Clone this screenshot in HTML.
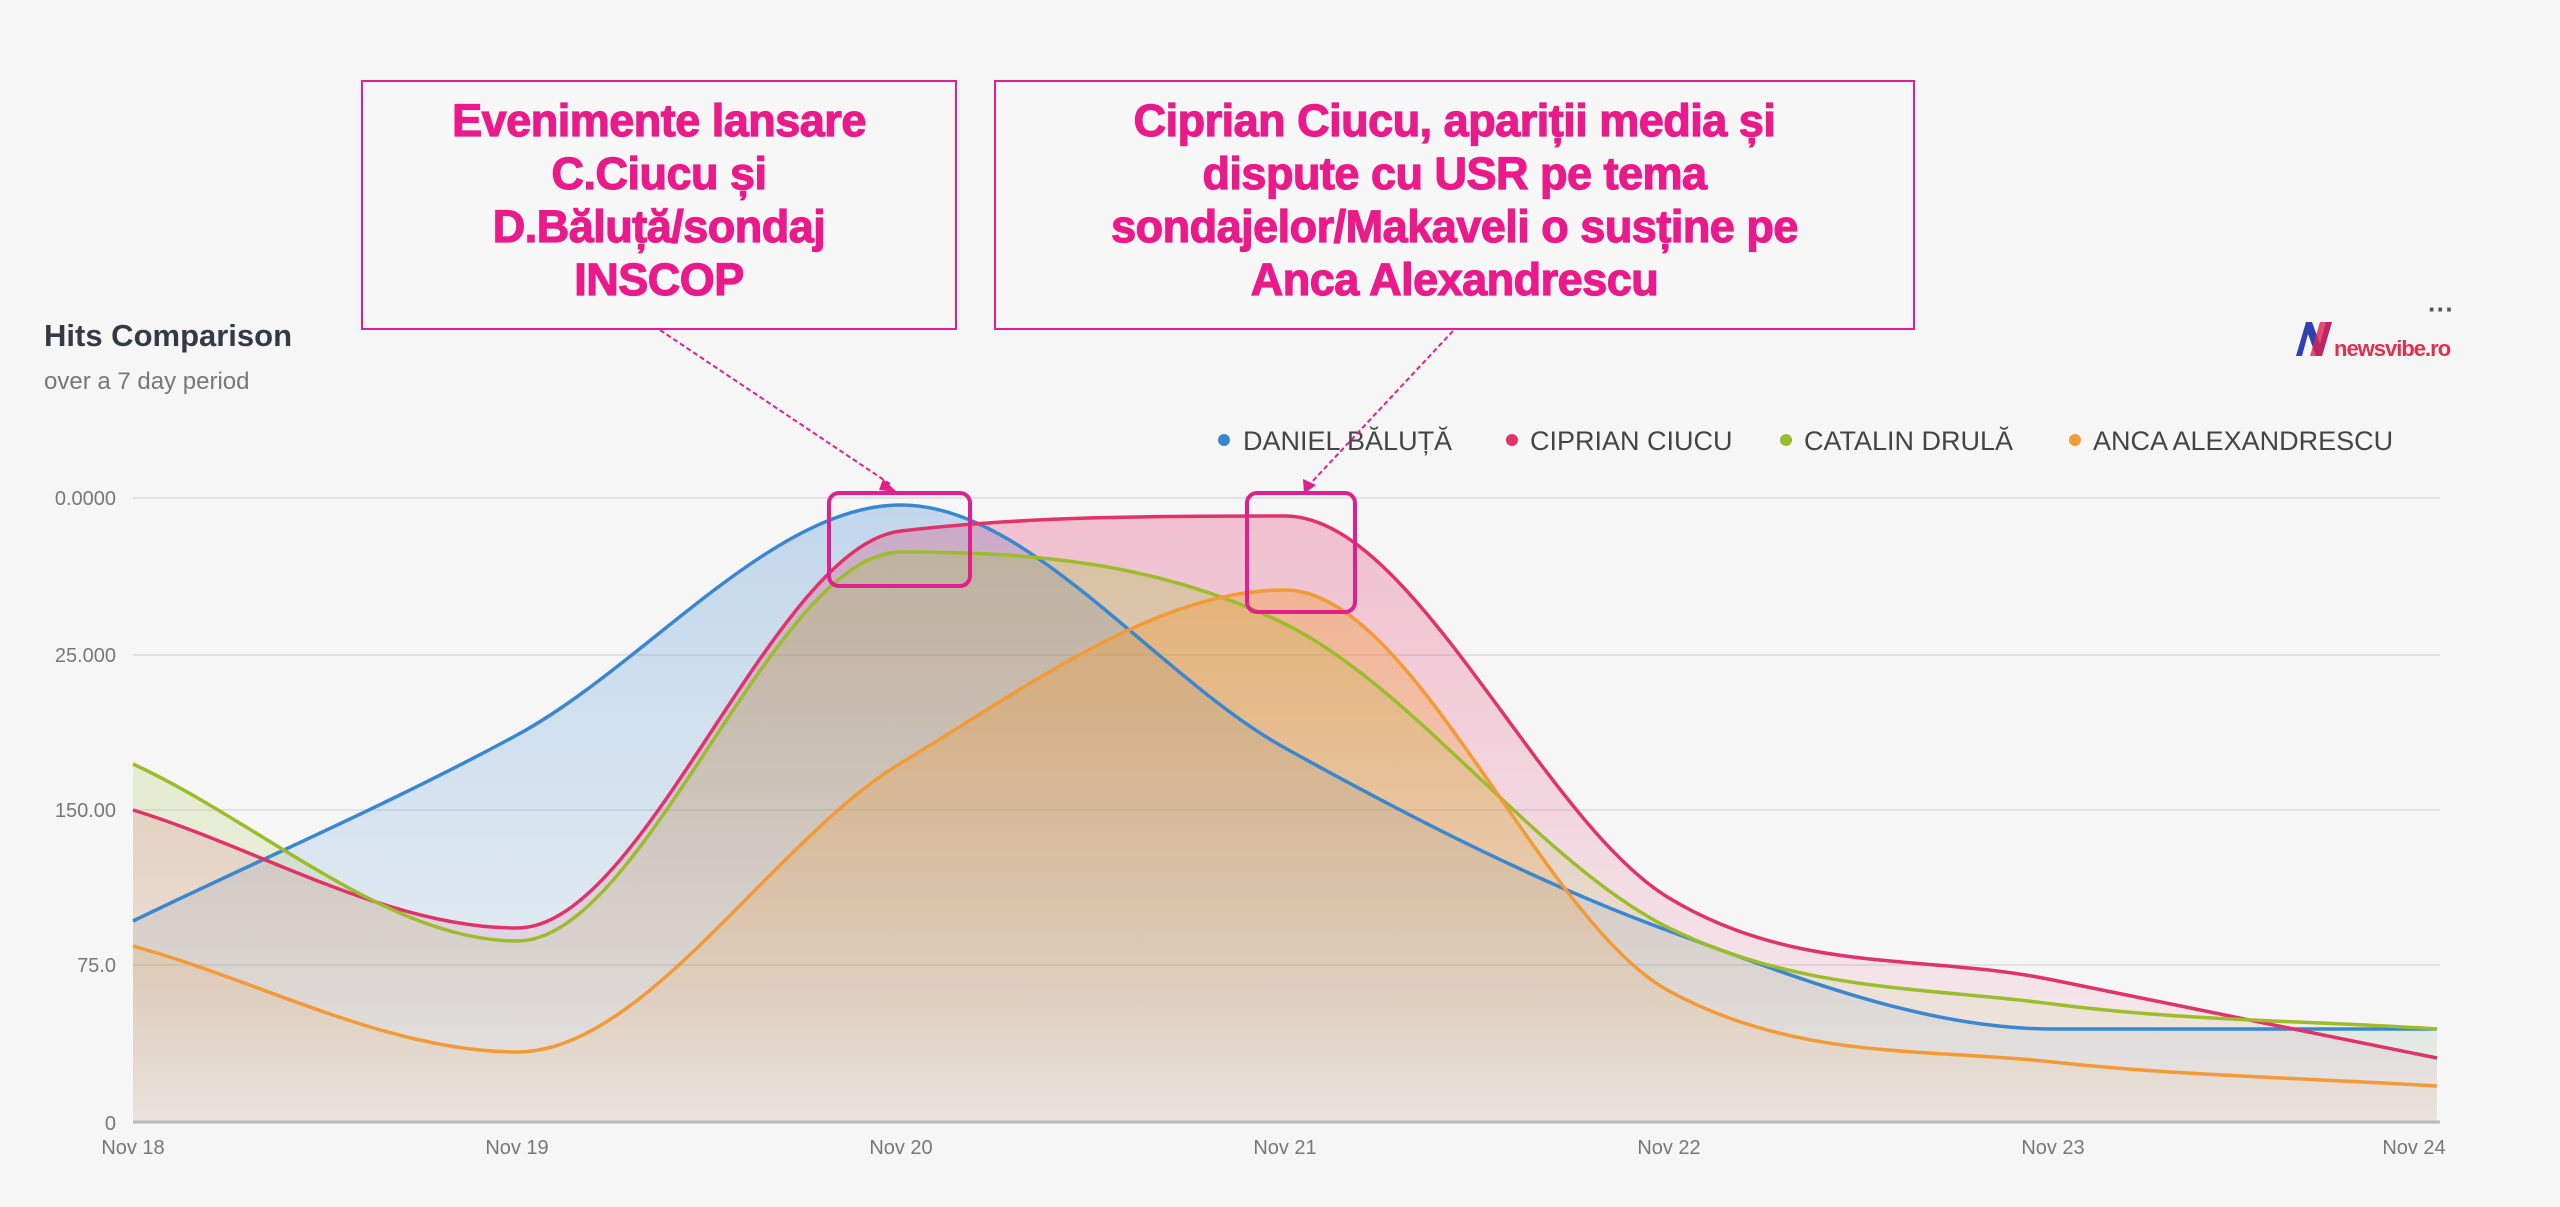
<!DOCTYPE html>
<html><head><meta charset="utf-8"><style>
html,body{margin:0;padding:0;background:#f6f6f6;}
body{width:2560px;height:1207px;overflow:hidden;position:relative;font-family:"Liberation Sans",sans-serif;}
.box{position:absolute;border:2px solid #e0208c;background:#f7f7f7;box-sizing:border-box;color:#ea1a8a;font-weight:bold;text-align:center;font-size:45px;line-height:53px;letter-spacing:-0.5px;-webkit-text-stroke:1.2px #ea1a8a;}
</style></head><body>
<svg id="s" width="2560" height="1207" style="position:absolute;left:0;top:0">
<defs>
<linearGradient id="gb" x1="0" y1="0" x2="0" y2="1"><stop offset="0" stop-color="#3a87d0" stop-opacity="0.28"/><stop offset="1" stop-color="#3a87d0" stop-opacity="0.05"/></linearGradient>
<linearGradient id="gr" x1="0" y1="0" x2="0" y2="1"><stop offset="0" stop-color="#e0336a" stop-opacity="0.28"/><stop offset="1" stop-color="#e0336a" stop-opacity="0.04"/></linearGradient>
<linearGradient id="gg" x1="0" y1="0" x2="0" y2="1"><stop offset="0" stop-color="#9cbc2c" stop-opacity="0.28"/><stop offset="1" stop-color="#9cbc2c" stop-opacity="0.04"/></linearGradient>
<linearGradient id="go" x1="0" y1="0" x2="0" y2="1"><stop offset="0" stop-color="#f29a35" stop-opacity="0.4"/><stop offset="1" stop-color="#f29a35" stop-opacity="0.05"/></linearGradient>
</defs>
<g stroke="#e2e2e2" stroke-width="2">
<line x1="133" y1="498" x2="2440" y2="498"/><line x1="133" y1="655" x2="2440" y2="655"/>
<line x1="133" y1="810" x2="2440" y2="810"/><line x1="133" y1="965" x2="2440" y2="965"/>
</g>
<g id="series"></g>
<line x1="133" y1="1122" x2="2440" y2="1122" stroke="#b8b8b8" stroke-width="3"/>
<g font-size="20" fill="#777" text-anchor="end">
<text x="116" y="505">0.0000</text><text x="116" y="662">25.000</text><text x="116" y="817">150.00</text><text x="116" y="972">75.0</text><text x="116" y="1130">0</text>
</g>
<g font-size="20" fill="#777" text-anchor="middle">
<text x="133" y="1154">Nov 18</text><text x="517" y="1154">Nov 19</text><text x="901" y="1154">Nov 20</text><text x="1285" y="1154">Nov 21</text><text x="1669" y="1154">Nov 22</text><text x="2053" y="1154">Nov 23</text><text x="2414" y="1154">Nov 24</text>
</g>
<text x="44" y="346" font-size="31" font-weight="bold" fill="#333a45">Hits Comparison</text>
<text x="44" y="389" font-size="24" fill="#777">over a 7 day period</text>
<g font-size="27" fill="#444">
<circle cx="1224" cy="440" r="6" fill="#3a87d0"/><text x="1243" y="450">DANIEL BĂLUȚĂ</text>
<circle cx="1512" cy="440" r="6" fill="#e0336a"/><text x="1530" y="450">CIPRIAN CIUCU</text>
<circle cx="1786" cy="440" r="6" fill="#9cbc2c"/><text x="1804" y="450">CATALIN DRULĂ</text>
<circle cx="2075" cy="440" r="6" fill="#f29a35"/><text x="2093" y="450">ANCA ALEXANDRESCU</text>
</g>
<text x="2428" y="318" font-size="26" fill="#555" font-weight="bold">···</text>
<path d="M2296 356 L2306 322 L2312 322 L2320 344 L2326 322 L2332 322 L2322 356 L2316 356 L2308 334 L2302 356Z" fill="#3040b0"/>
<path d="M2310 356 L2320 322 L2332 322 L2322 356Z" fill="#e02050" opacity="0.8"/>
<text x="2334" y="356" font-size="22" fill="#e03050" font-weight="bold" letter-spacing="-1">newsvibe.ro</text>
<g stroke="#e0208c" stroke-width="2" stroke-dasharray="5,3" fill="none">
<line x1="660" y1="330" x2="890" y2="484"/><line x1="1453" y1="331" x2="1310" y2="484"/>
</g>
<path d="M883 479 L897 492 L879 490Z" fill="#e0208c"/><path d="M1303 479 L1304 494 L1316 485Z" fill="#e0208c"/>
<g stroke="#e0208c" stroke-width="4" fill="none">
<rect x="829" y="493" width="141" height="93" rx="10"/><rect x="1247" y="493" width="108" height="119" rx="10"/>
</g>
</svg>
<div class="box" style="left:361px;top:80px;width:596px;height:250px;padding-top:12px">Evenimente lansare<br>C.Ciucu și<br>D.Băluță/sondaj<br>INSCOP</div>
<div class="box" style="left:994px;top:80px;width:921px;height:250px;padding-top:12px">Ciprian Ciucu, apariții media și<br>dispute cu USR pe tema<br>sondajelor/Makaveli o susține pe<br>Anca Alexandrescu</div>
<script>
var X=[133,517,901,1285,1669,2053,2437],B=1122;
var S=[
["#3a87d0","gb",[921,735,505,748,931,1029,1029]],
["#e0336a","gr",[810,928,531,516,898,980,1058]],
["#9cbc2c","gg",[764,941,552,624,928,1004,1029]],
["#f29a35","go",[946,1052,763,590,991,1062,1086]]];
function path(y){var n=y.length,d=[],m=[];for(var i=0;i<n-1;i++)d.push((y[i+1]-y[i])/(X[i+1]-X[i]));
m[0]=d[0];m[n-1]=d[n-2];for(i=1;i<n-1;i++){m[i]=(d[i-1]*d[i]<=0)?0:(d[i-1]+d[i])/2;}
for(i=0;i<n-1;i++){if(d[i]==0){m[i]=m[i+1]=0;continue;}var a=m[i]/d[i],b=m[i+1]/d[i],s=a*a+b*b;if(s>9){var t=3/Math.sqrt(s);m[i]=t*a*d[i];m[i+1]=t*b*d[i];}}
var p="M"+X[0]+" "+y[0];for(i=0;i<n-1;i++){var h=(X[i+1]-X[i])/3;p+=" C"+(X[i]+h)+" "+(y[i]+m[i]*h)+" "+(X[i+1]-h)+" "+(y[i+1]-m[i+1]*h)+" "+X[i+1]+" "+y[i+1];}return p;}
var g=document.getElementById("series"),h="";
S.forEach(function(s){var p=path(s[2]);h+='<path d="'+p+' L2437 '+B+' L133 '+B+'Z" fill="url(#'+s[1]+')"/>';});
S.forEach(function(s){h+='<path d="'+path(s[2])+'" fill="none" stroke="'+s[0]+'" stroke-width="3.5"/>';});
g.innerHTML=h;
</script>
</body></html>
